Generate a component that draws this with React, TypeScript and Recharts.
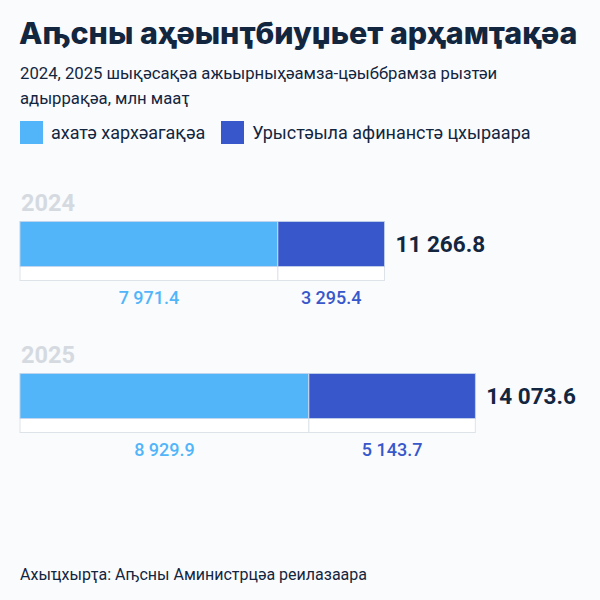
import React from 'react'
import { BarChart, Bar, XAxis, YAxis, Legend, LabelList } from 'recharts'

const years = ['2024', '2025']
const ownRevenue = [7971.4, 8929.9]
const russianAid = [3295.4, 5143.7]
const seriesNames = ['ахатә хархәагақәа', 'Урыстәыла афинанстә цхыраара']
const colors = ['#52B5F9', '#3757CB']

const data = years.map((year, i) => ({
  year,
  own: ownRevenue[i],
  aid: russianAid[i],
  total: ownRevenue[i] + russianAid[i],
}))

const DARK = '#13263F'
const STRIP = 14

// 7971.4 -> "7 971.4"
const fmt = (v: number) => v.toFixed(1).replace(/\B(?=(\d{3})+(?!\d))/g, ' ')

const SegmentShape = (props: any) => {
  const { x, y, width, height, fill } = props
  return (
    <g>
      <rect x={x} y={y} width={width} height={height} fill="#fff" stroke="#DEE3EA" strokeWidth={1} />
      <rect x={x} y={y} width={width} height={height - STRIP} fill={fill} stroke="#C9D6EC" strokeWidth={0.8} />
    </g>
  )
}

const valueLabel = (color: string) => (props: any) => {
  const { x, y, width, height, value } = props
  return (
    <text
      x={x + width / 2}
      y={y + height + 23}
      textAnchor="middle"
      fill={color}
      fontSize={18}
      fontWeight={500}
      fontFamily="Roboto"
    >
      {fmt(value)}
    </text>
  )
}

const yearLabel = (props: any) => {
  const { x, y, index } = props
  return (
    <text x={x + 1} y={y - 11} fill="#D5DAE1" fontSize={23.5} fontWeight={700} fontFamily="Roboto">
      {years[index]}
    </text>
  )
}

const totalLabel = (props: any) => {
  const { x, y, width, height, index } = props
  return (
    <text
      x={x + width + 11}
      y={y + (height - STRIP) / 2 + 8}
      fill={DARK}
      fontSize={22.5}
      fontWeight={700}
      fontFamily="Roboto"
    >
      {fmt(data[index].total)}
    </text>
  )
}

const LegendContent = (props: any) => {
  const items = [...(props.payload || [])].sort(
    (a: any, b: any) => seriesNames.indexOf(a.value) - seriesNames.indexOf(b.value)
  )
  return (
    <div style={{ display: 'flex', alignItems: 'center' }}>
      {items.map((p: any) => (
        <div key={p.value} style={{ display: 'flex', alignItems: 'center', marginRight: 16 }}>
          <div style={{ width: 23, height: 23, background: p.color, marginRight: 8 }} />
          <span style={{ fontFamily: 'Roboto', fontSize: 18, color: DARK }}>{p.value}</span>
        </div>
      ))}
    </div>
  )
}

export default function App() {
  return (
    <div
      style={{
        position: 'fixed',
        top: 0,
        left: 0,
        width: 600,
        height: 600,
        background: '#FAFBFD',
        fontFamily: 'Roboto',
        color: DARK,
      }}
    >
      <div
        style={{
          position: 'absolute',
          top: 14,
          left: 19,
          fontFamily: 'Inter',
          fontWeight: 800,
          fontSize: 30.4,
          lineHeight: '38px',
          whiteSpace: 'nowrap',
        }}
      >
        Аҧсны аҳәынҭбиуџьет арҳамҭақәа
      </div>
      <div
        style={{
          position: 'absolute',
          top: 61,
          left: 20,
          fontSize: 16.7,
          lineHeight: '25px',
          whiteSpace: 'nowrap',
        }}
      >
        2024, 2025 шықәсақәа ажьырныҳәамза-цәыббрамза рызтәи
        <br />
        адыррақәа, млн мааҭ
      </div>
      <BarChart
        width={600}
        height={600}
        data={data}
        layout="vertical"
        margin={{ top: 174.5, bottom: 121.5, left: 20, right: 30 }}
        style={{ position: 'absolute', top: 0, left: 0 }}
      >
        <XAxis type="number" hide domain={[0, 17000]} />
        <YAxis type="category" dataKey="year" hide />
        <Legend
          content={<LegendContent />}
          layout="horizontal"
          verticalAlign="middle"
          align="center"
          wrapperStyle={{ top: 121, left: 20, width: 580, height: 23 }}
        />
        <Bar
          dataKey="own"
          name={seriesNames[0]}
          stackId="a"
          fill={colors[0]}
          barSize={59}
          shape={<SegmentShape />}
          isAnimationActive={false}
        >
          <LabelList dataKey="own" content={valueLabel(colors[0])} />
          <LabelList dataKey="own" content={yearLabel} />
        </Bar>
        <Bar
          dataKey="aid"
          name={seriesNames[1]}
          stackId="a"
          fill={colors[1]}
          barSize={59}
          shape={<SegmentShape />}
          isAnimationActive={false}
        >
          <LabelList dataKey="aid" content={valueLabel(colors[1])} />
          <LabelList dataKey="aid" content={totalLabel} />
        </Bar>
      </BarChart>
      <div style={{ position: 'absolute', top: 565, left: 20, fontSize: 16, lineHeight: '20px' }}>
        Ахыҵхырҭа: Аҧсны Аминистрцәа реилазаара
      </div>
    </div>
  )
}
